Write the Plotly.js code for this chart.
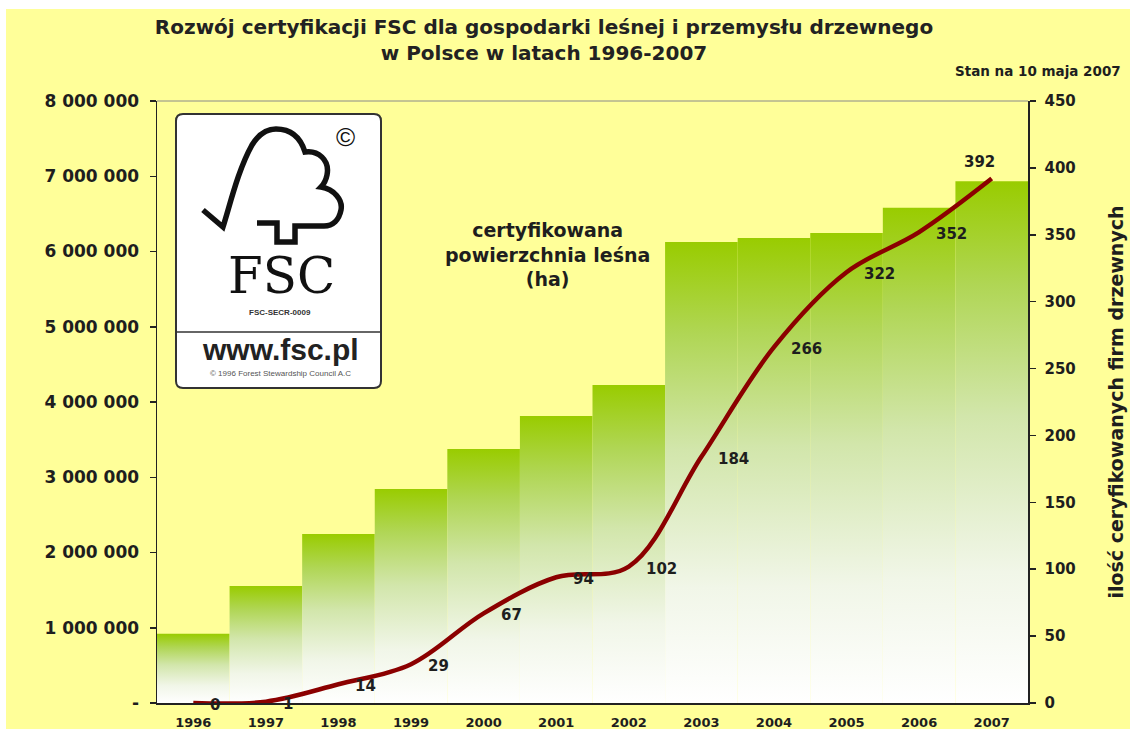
<!DOCTYPE html>
<html>
<head>
<meta charset="utf-8">
<script src="https://cdn.plot.ly/plotly-3.0.1.min.js"></script>
<style>
  html, body { margin: 0; padding: 0; background: #ffffff; }
  #chart { position: absolute; left: 6px; top: 9px; width: 1124px; height: 720px; }
</style>
</head>
<body>
<div id="chart"></div>
<script>
// ---- data ----
const years = ['1996','1997','1998','1999','2000','2001','2002','2003','2004','2005','2006','2007'];
const areaHa = [920000, 1555000, 2245000, 2845000, 3375000, 3815000, 4225000, 6125000, 6180000, 6245000, 6580000, 6935000];
const firms = [0, 1, 14, 29, 67, 94, 102, 184, 266, 322, 352, 392];
const leftTickVals = [0, 1000000, 2000000, 3000000, 4000000, 5000000, 6000000, 7000000, 8000000];
const leftTickText = ['-', '1 000 000', '2 000 000', '3 000 000', '4 000 000', '5 000 000', '6 000 000', '7 000 000', '8 000 000'];
const rightTickVals = [0, 50, 100, 150, 200, 250, 300, 350, 400, 450];

// ---- geometry helpers (page pixels -> paper) ----
const PL = 157, PR = 1028, PT = 101, PB = 703;
const px2x = X => (X - PL) / (PR - PL);
const px2y = Y => (PB - Y) / (PB - PT);
const P = s => s.replace(/(-?\d+\.?\d*),(-?\d+\.?\d*)/g,
  (m, a, b) => px2x(+a).toFixed(5) + ',' + px2y(+b).toFixed(5));

const FONT = '"DejaVu Sans", Verdana, sans-serif';
const LOGOFONT = '"Liberation Sans", Arial, sans-serif';
const TXT = '#1e1e1e';
const idx = years.map((_, i) => i);

// ---- traces ----
const greenScale = [[0, '#ffffff'], [0.25, '#f1f6e8'], [0.55, '#d2e6ab'], [0.8, '#b0d655'], [1, '#99cc00']];
const traces = areaHa.map((v, i) => ({
  type: 'scatter', mode: 'lines', fill: 'toself',
  x: [i - 0.5, i - 0.5, i + 0.5, i + 0.5],
  y: [0, v, v, 0],
  line: { width: 0, color: 'rgba(0,0,0,0)' },
  fillgradient: { type: 'vertical', colorscale: greenScale },
  hoverinfo: 'skip', showlegend: false, xaxis: 'x', yaxis: 'y'
}));
traces.push({
  type: 'scatter', mode: 'lines', x: idx, y: firms, yaxis: 'y2',
  line: { color: '#8b0000', width: 4.5, shape: 'spline', smoothing: 1 },
  showlegend: false, hoverinfo: 'x+y'
});

// ---- annotations ----
const pa = (X, Y, text, font, extra) => Object.assign({
  xref: 'paper', yref: 'paper', x: px2x(X), y: px2y(Y), text: text, showarrow: false,
  xanchor: 'center', yanchor: 'middle', borderpad: 0, font: font }, extra || {});

const annotations = firms.map((f, i) => {
  const last = i === firms.length - 1;
  return {
    x: i, y: f, xref: 'x', yref: 'y2', text: String(f), showarrow: false,
    xanchor: last ? 'center' : 'left', yanchor: 'middle',
    xshift: last ? -12 : 15, yshift: last ? 17 : -2,
    font: { family: FONT, size: 15, color: TXT, weight: 'bold' }
  };
});
annotations.push(
  pa(547, 254, 'certyfikowana<br>powierzchnia leśna<br>(ha)', { family: FONT, size: 19, color: TXT, weight: 'bold' }, { align: 'center' }),
  pa(1122, 71, 'Stan na 10 maja 2007', { family: FONT, size: 13.5, color: TXT, weight: 'bold' }, { xanchor: 'right' }),
  // logo texts
  pa(345, 137, '©', { family: LOGOFONT, size: 26, color: '#111' }),
  pa(281, 276, 'FSC', { family: '"DejaVu Serif", "Liberation Serif", serif', size: 50, color: '#111' }),
  pa(280, 312, 'FSC-SECR-0009', { family: LOGOFONT, size: 8, color: '#333', weight: 'bold' }),
  pa(280, 349, 'www.fsc.pl', { family: LOGOFONT, size: 30, color: '#222', weight: 'bold' }),
  pa(280, 373, '© 1996 Forest Stewardship Council A.C', { family: LOGOFONT, size: 8, color: '#555' })
);

// ---- shapes (logo + plot top border) ----
const shapes = [
  { type: 'line', xref: 'paper', yref: 'paper', x0: 0, x1: 1, y0: 1, y1: 1, line: { color: '#8a8a8a', width: 1 } },
  { type: 'path', xref: 'paper', yref: 'paper', layer: 'above', fillcolor: '#ffffff', line: { color: '#333', width: 2 },
    path: P('M183,114 L374,114 Q381,114 381,121 L381,381 Q381,388 374,388 L183,388 Q176,388 176,381 L176,121 Q176,114 183,114 Z') },
  { type: 'path', xref: 'paper', yref: 'paper', layer: 'above', line: { color: '#333', width: 1.5 },
    path: P('M176,332 L381,332') },
  { type: 'path', xref: 'paper', yref: 'paper', layer: 'above', line: { color: '#111', width: 5.5 },
    path: P('M203,210 L223,227 C230,205 238,170 252,145 C260,132 268,129 276,129 C290,129 300,136 305,152 C318,150 330,160 327,175 C326,180 324,184 321,187 C334,189 343,200 341,210 C339,220 333,226 324,226 L295,226 L295,242 L277,242 L277,223 L257,223') }
];

const layout = {
  width: 1124, height: 720,
  margin: { l: 151, r: 102, t: 92, b: 26 },
  paper_bgcolor: '#ffff99', plot_bgcolor: '#ffff99',
  title: { text: 'Rozwój certyfikacji FSC dla gospodarki leśnej i przemysłu drzewnego<br>w Polsce w latach 1996-2007',
    xref: 'container', yref: 'container', x: (544 - 6) / 1124, xanchor: 'center', y: 1 - 25 / 720, yanchor: 'middle',
    font: { family: FONT, size: 20, color: '#222', weight: 'bold' } },
  showlegend: false,
  xaxis: { range: [-0.5, 11.5], tickvals: idx, ticktext: years, ticks: '', showgrid: false, zeroline: false,
    showline: true, linecolor: '#222', linewidth: 1.5, anchor: 'y',
    tickfont: { family: FONT, size: 13, color: TXT, weight: 'bold' }, ticklabelstandoff: 7 },
  xaxis2: { overlaying: 'x', anchor: 'y', range: [-0.5, 11.5], tickvals: idx.map(i => i - 0.5).concat([11.5]),
    ticks: 'outside', ticklen: 6, tickcolor: '#222', tickwidth: 1.5, showticklabels: false, showgrid: false, zeroline: false, showline: false },
  xaxis3: { overlaying: 'x', anchor: 'y', range: [-0.5, 11.5], tickvals: idx.map(i => i - 0.5).concat([11.5]),
    ticks: 'inside', ticklen: 6, tickcolor: '#222', tickwidth: 1.5, showticklabels: false, showgrid: false, zeroline: false, showline: false },
  yaxis: { range: [0, 8000000], tickvals: leftTickVals, ticktext: leftTickText, ticks: 'outside', ticklen: 6,
    tickcolor: '#222', tickwidth: 1.5, showline: true, linecolor: '#222', linewidth: 1.5, showgrid: false, zeroline: false,
    tickfont: { family: FONT, size: 17, color: TXT, weight: 'bold' }, ticklabelstandoff: 7, anchor: 'x' },
  yaxis3: { overlaying: 'y', anchor: 'x', side: 'left', range: [0, 8000000], tickvals: leftTickVals, ticks: 'inside', ticklen: 6,
    tickcolor: '#222', tickwidth: 1.5, showticklabels: false, showgrid: false, zeroline: false, showline: false },
  yaxis2: { overlaying: 'y', side: 'right', anchor: 'x', range: [0, 450], tickvals: rightTickVals, ticks: 'outside', ticklen: 6,
    tickcolor: '#222', tickwidth: 1.5, showline: true, linecolor: '#222', linewidth: 1.5, showgrid: false, zeroline: false,
    tickfont: { family: FONT, size: 15, color: TXT, weight: 'bold' }, ticklabelstandoff: 6,
    title: { text: 'ilość ceryfikowanych firm drzewnych', standoff: 35,
      font: { family: FONT, size: 19, color: TXT, weight: 'bold' } } },
  yaxis4: { overlaying: 'y', side: 'right', anchor: 'x', range: [0, 450], tickvals: rightTickVals, ticks: 'inside', ticklen: 6,
    tickcolor: '#222', tickwidth: 1.5, showticklabels: false, showgrid: false, zeroline: false, showline: false },
  annotations: annotations,
  shapes: shapes
};

Plotly.newPlot('chart', traces, layout, { displayModeBar: false, staticPlot: true });
</script>
</body>
</html>
